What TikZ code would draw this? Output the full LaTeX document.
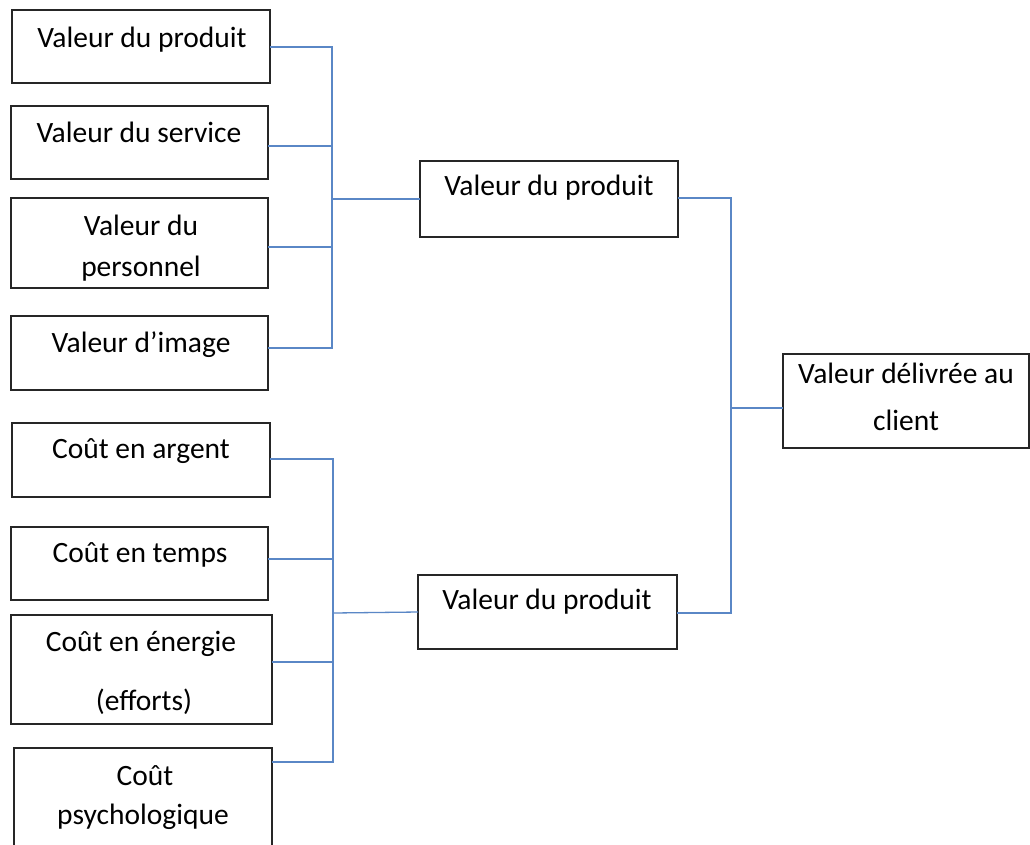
\documentclass[tikz,border=0pt]{standalone}
\usepackage{fontspec}
\setmainfont{Carlito}
\begin{document}
\begin{tikzpicture}[x=1pt,y=-1pt,
  box/.style={draw=boxline,line width=1.6pt,inner sep=0pt,outer sep=0pt,rectangle},
  txt/.style={anchor=base,inner sep=0pt,font=\fontsize{29.5}{34}\selectfont},
  wire/.style={draw=wireblue,line width=1.3pt}]
\definecolor{boxline}{HTML}{262626}
\definecolor{wireblue}{HTML}{5A87C6}
\clip (0,0) rectangle (1030,844);
\fill[white] (0,0) rectangle (1030,844);

% value components
\node[box,minimum width=258pt,minimum height=73pt] (b1) at (141,46.5) {};
\node[box,minimum width=257pt,minimum height=73pt] (b2) at (139.5,142.5) {};
\node[box,minimum width=257pt,minimum height=90pt] (b3) at (139.5,243) {};
\node[box,minimum width=257pt,minimum height=74pt] (b4) at (139.5,353) {};
% cost components
\node[box,minimum width=258pt,minimum height=74pt] (b5) at (141,460) {};
\node[box,minimum width=257pt,minimum height=73pt] (b6) at (139.5,563.5) {};
\node[box,minimum width=261pt,minimum height=109pt] (b7) at (141.5,669.5) {};
\node[box,minimum width=258pt,minimum height=102pt] (b8) at (143,799) {};
% totals
\node[box,minimum width=258pt,minimum height=76pt] (m1) at (549,199) {};
\node[box,minimum width=259pt,minimum height=74pt] (m2) at (547.5,612) {};
\node[box,minimum width=246pt,minimum height=94pt] (r) at (906,401) {};

% labels
\node[txt] (t1) at (142,47) {Valeur du produit};
\node[txt] (t2) at (139,142) {Valeur du service};
\node[txt] (t3a) at (141,235) {Valeur du};
\node[txt] (t3b) at (141,276) {personnel};
\node[txt] (t4) at (141,352) {Valeur d’image};
\node[txt] (t5) at (141,458) {Coût en argent};
\node[txt] (t6) at (140,562) {Coût en temps};
\node[txt] (t7a) at (141,651) {Coût en énergie};
\node[txt] (t7b) at (144,710) {(efforts)};
\node[txt] (t8a) at (145,785) {Coût};
\node[txt] (t8b) at (143,824) {psychologique};
\node[txt] (tm1) at (549,195) {Valeur du produit};
\node[txt] (tm2) at (547,609) {Valeur du produit};
\node[txt] (tra) at (906,383) {Valeur délivrée au};
\node[txt] (trb) at (906,430) {client};

% junction points of the three buses
\coordinate (jA) at (332,199);
\coordinate (jB) at (333,613);
\coordinate (jC) at (731,408);

% upper bus
\coordinate (a1) at ([yshift=-0.5pt]b1.east);
\coordinate (a2) at ([yshift=-3.5pt]b2.east);
\coordinate (a3) at ([yshift=-4pt]b3.east);
\coordinate (a4) at ([yshift=5pt]b4.east);
\draw[wire] (a1) -- (a1 -| jA) -- (a4 -| jA) -- (a4);
\draw[wire] (a2) -- (a2 -| jA);
\draw[wire] (a3) -- (a3 -| jA);
\draw[wire] (jA) -- (m1.west);

% lower bus
\coordinate (c5) at ([yshift=1pt]b5.east);
\coordinate (c6) at ([yshift=4.5pt]b6.east);
\coordinate (c7) at ([yshift=7.5pt]b7.east);
\coordinate (c8) at ([yshift=37pt]b8.east);
\draw[wire] (c5) -- (c5 -| jB) -- (c8 -| jB) -- (c8);
\draw[wire] (c6) -- (c6 -| jB);
\draw[wire] (c7) -- (c7 -| jB);
\draw[wire] (jB) -- (m2.west);

% right bus
\coordinate (e1) at ([yshift=1pt]m1.east);
\coordinate (e2) at ([yshift=-1pt]m2.east);
\draw[wire] (e1) -- (e1 -| jC) -- (e2 -| jC) -- (e2);
\draw[wire] (jC) -- (jC -| r.west);
\end{tikzpicture}
\end{document}
